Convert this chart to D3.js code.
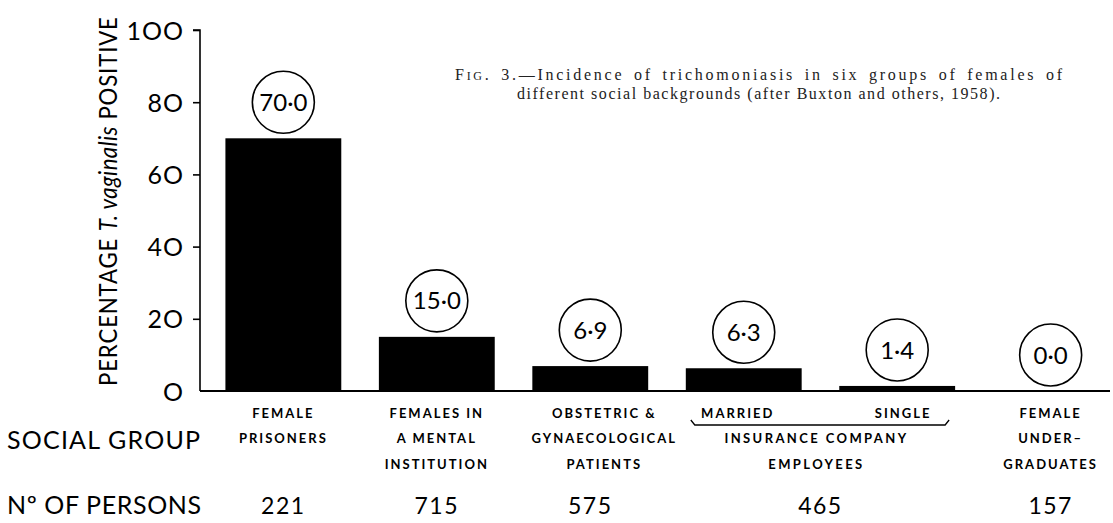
<!DOCTYPE html>
<html><head><meta charset="utf-8">
<script src="https://cdn.jsdelivr.net/npm/d3@7"></script>
<style>
body{margin:0;background:#fff;}
svg{display:block;}
</style></head>
<body><svg id="c" width="1113" height="523"></svg>
<script>
// ---- data ----
const groups = ["prisoners","mental","obstetric","married","single","undergrad"];
const values = [70.0, 15.0, 6.9, 6.3, 1.4, 0.0];
const valueLabels = ["70·0","15·0","6·9","6·3","1·4","0·0"];
const groupLines = [
  ["FEMALE","PRISONERS"],
  ["FEMALES IN","A MENTAL","INSTITUTION"],
  ["OBSTETRIC &","GYNAECOLOGICAL","PATIENTS"],
  ["MARRIED"],
  ["SINGLE"],
  ["FEMALE","UNDER–","GRADUATES"]
];
const insuranceLines = ["INSURANCE  COMPANY","EMPLOYEES"];
const persons = ["221","715","575","465","157"];
const personsGroups = [["prisoners"],["mental"],["obstetric"],["married","single"],["undergrad"]];
const yTicks = [0,20,40,60,80,100];
const yTickLabels = ["O","2O","4O","6O","8O","1OO"];

// ---- layout ----
const svg = d3.select("#c");
const x = d3.scaleBand().domain(groups).range([207, 1127]).paddingInner(0.245).paddingOuter(0.12);
const y = d3.scaleLinear().domain([0,100]).range([391, 30]);
const ink = "#000";
const sans = "Lato, 'Open Sans', sans-serif";
const labelShift = [0, 0, 14, -6, 6, 0];

// caption
const serif = "'Liberation Serif', 'Times New Roman', serif";
const c1 = svg.append("text").attr("font-family",serif).attr("font-size",16).attr("fill","#222")
  .attr("x",455).attr("y",80).attr("textLength",607).attr("lengthAdjust","spacing").attr("word-spacing",3);
c1.append("tspan").text("F");
c1.append("tspan").attr("font-size",12).text("IG");
c1.append("tspan").text(". 3.—Incidence of trichomoniasis in six groups of females of");
svg.append("text").attr("font-family",serif).attr("font-size",16).attr("fill","#222")
  .attr("x",517).attr("y",99).attr("textLength",483).attr("lengthAdjust","spacing")
  .text("different social backgrounds (after Buxton and others, 1958).");

// y axis
const yAxis = d3.axisLeft(y).tickValues(yTicks).tickSize(7).tickPadding(9).tickFormat((d,i)=>yTickLabels[i]);
const ga = svg.append("g").attr("transform","translate(200,0)").call(yAxis);
ga.select(".domain").attr("d", `M-7,${y(100)}H0V${y(0)}`).attr("stroke",ink).attr("stroke-width",1.6);
ga.selectAll(".tick line").attr("stroke",ink).attr("stroke-width",1.6);
ga.selectAll(".tick").filter(d=>d===0).select("line").remove();
ga.selectAll(".tick text").attr("font-family",sans).attr("font-size",25).attr("fill",ink)
  .attr("letter-spacing",1).attr("dy","0.36em");

// baseline
svg.append("line").attr("x1",200).attr("x2",1110).attr("y1",y(0)).attr("y2",y(0))
  .attr("stroke",ink).attr("stroke-width",1.8);

// y title
const ytg = svg.append("g").attr("transform","translate(117,386) rotate(-90)");
const yt = ytg.append("text").attr("font-family",sans).attr("font-size",25).attr("fill",ink).attr("letter-spacing",1);
yt.append("tspan").text("PERCENTAGE  ");
yt.append("tspan").attr("font-style","italic").attr("letter-spacing",0.5).text("T. vaginalis");
yt.append("tspan").text(" POSITIVE");
const ytw = yt.node().getBBox().width;
if (ytw > 370) yt.attr("transform",`scale(${370/ytw},1)`);

// bars
svg.selectAll("rect.bar").data(groups).join("rect").attr("class","bar")
  .attr("x",d=>x(d)).attr("width",x.bandwidth())
  .attr("y",(d,i)=>y(values[i])).attr("height",(d,i)=>y(0)-y(values[i]))
  .attr("fill",ink);

// value circles
const r = 31;
const cg = svg.selectAll("g.val").data(groups).join("g").attr("class","val")
  .attr("transform",(d,i)=>`translate(${x(d)+x.bandwidth()/2},${y(values[i])-36})`);
cg.append("circle").attr("r",r).attr("fill","#fff").attr("stroke",ink).attr("stroke-width",1.6);
cg.append("text").attr("text-anchor","middle").attr("dy","0.36em")
  .attr("font-family",sans).attr("font-size",24).attr("fill",ink)
  .text((d,i)=>valueLabels[i]);

// category labels
const rowY = [418, 443, 469];
groups.forEach((g,i)=>{
  const cx = x(g)+x.bandwidth()/2 + labelShift[i];
  groupLines[i].forEach((t,j)=>{
    svg.append("text").attr("x",cx).attr("y",rowY[j]).attr("text-anchor","middle")
      .attr("font-family",sans).attr("font-weight",700).attr("font-size",13)
      .attr("letter-spacing",2).attr("fill",ink).text(t);
  });
});
// bracket under married/single
const bx1 = x("married")+5, bx2 = x("single")+x.bandwidth()-6;
svg.append("path").attr("d",`M${bx1},${rowY[0]+2}L${bx1+4},${rowY[0]+7}H${bx2-4}L${bx2},${rowY[0]+2}`)
  .attr("fill","none").attr("stroke",ink).attr("stroke-width",1.3);
const insCx = (x("married")+x("single")+x.bandwidth())/2 - 4;
insuranceLines.forEach((t,j)=>{
  svg.append("text").attr("x",insCx).attr("y",rowY[j+1]).attr("text-anchor","middle")
    .attr("font-family",sans).attr("font-weight",700).attr("font-size",13)
    .attr("letter-spacing",2.4).attr("fill",ink).text(t);
});

// row headers
svg.append("text").attr("x",7).attr("y",449).attr("font-family",sans).attr("font-size",25)
  .attr("letter-spacing",1.2).attr("fill",ink).text("SOCIAL GROUP");
svg.append("text").attr("x",7).attr("y",514).attr("font-family",sans).attr("font-size",25)
  .attr("letter-spacing",0.6).attr("fill",ink).text("Nº OF PERSONS");

// persons numbers
persons.forEach((p,i)=>{
  const gs = personsGroups[i];
  const cx = d3.mean(gs, g=>x(g)+x.bandwidth()/2);
  svg.append("text").attr("x",cx).attr("y",514).attr("text-anchor","middle")
    .attr("font-family",sans).attr("font-size",23).attr("letter-spacing",1.5)
    .attr("fill",ink).text(p);
});
</script></body></html>
